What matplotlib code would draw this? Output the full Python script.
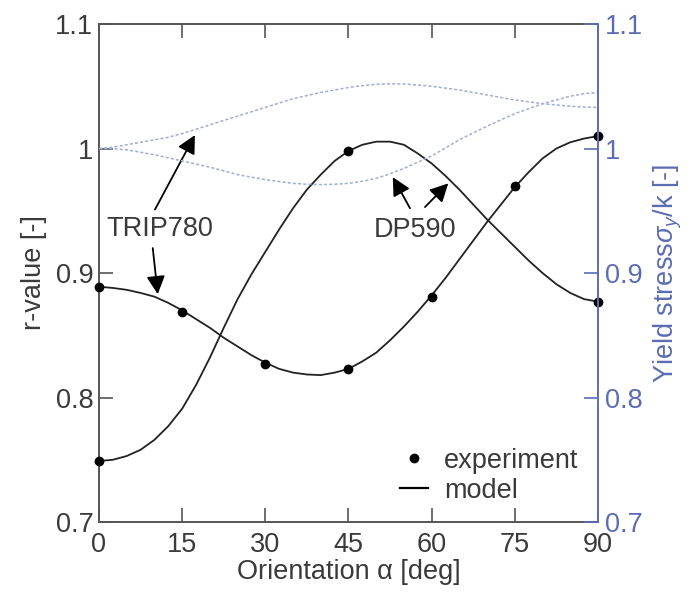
import matplotlib
matplotlib.use("Agg")
import matplotlib.pyplot as plt
from matplotlib.lines import Line2D

plt.rcParams['font.family'] = ['Liberation Sans', 'DejaVu Sans']
plt.rcParams['mathtext.fontset'] = 'custom'
plt.rcParams['mathtext.rm'] = 'Liberation Sans'
plt.rcParams['mathtext.it'] = 'Liberation Sans:italic'

# experiment (orientation in deg)
exp_angles_trip = [0, 15, 30, 45, 60, 75, 90]
exp_r_trip = [0.889, 0.869, 0.827, 0.823, 0.881, 0.970, 1.010]
exp_angles_dp = [0, 45, 90]
exp_r_dp = [0.749, 0.998, 0.877]

model_angles = [0, 2.5, 5, 7.5, 10, 12.5, 15, 17.5, 20, 22.5, 25, 27.5, 30, 32.5, 35, 37.5,
                40, 42.5, 45, 47.5, 50, 52.5, 55, 57.5, 60, 62.5, 65, 67.5, 70, 72.5, 75,
                77.5, 80, 82.5, 85, 87.5, 90]
model_r_trip = [0.889, 0.888, 0.8865, 0.884, 0.881, 0.876, 0.870, 0.863, 0.856, 0.848,
                0.841, 0.834, 0.828, 0.823, 0.820, 0.8185, 0.818, 0.820, 0.823, 0.829,
                0.836, 0.846, 0.857, 0.869, 0.882, 0.896, 0.911, 0.926, 0.941, 0.955,
                0.969, 0.981, 0.992, 1.000, 1.005, 1.008, 1.010]
model_r_dp = [0.749, 0.750, 0.753, 0.758, 0.766, 0.777, 0.791, 0.810, 0.832, 0.856,
              0.879, 0.899, 0.917, 0.935, 0.952, 0.967, 0.979, 0.990, 0.998, 1.003,
              1.0055, 1.0055, 1.003, 0.996, 0.988, 0.978, 0.967, 0.955, 0.943, 0.932,
              0.921, 0.910, 0.900, 0.891, 0.884, 0.879, 0.877]
model_sy_trip = [1.000, 1.001, 1.003, 1.005, 1.007, 1.009, 1.012, 1.0155, 1.019, 1.0225,
                 1.026, 1.0295, 1.033, 1.0365, 1.040, 1.0425, 1.045, 1.047, 1.049, 1.0505,
                 1.0515, 1.052, 1.0518, 1.051, 1.050, 1.0485, 1.047, 1.045, 1.043, 1.041,
                 1.039, 1.0375, 1.036, 1.035, 1.034, 1.0333, 1.033]
model_sy_dp = [1.000, 0.9998, 0.999, 0.997, 0.995, 0.9925, 0.990, 0.9875, 0.985, 0.982,
               0.979, 0.977, 0.975, 0.9735, 0.972, 0.9713, 0.971, 0.9713, 0.972, 0.9737,
               0.976, 0.9797, 0.984, 0.989, 0.994, 1.0005, 1.007, 1.0125, 1.018, 1.023,
               1.028, 1.032, 1.036, 1.039, 1.042, 1.044, 1.045]

x_ticks = [0, 15, 30, 45, 60, 75, 90]
y_ticks = [0.7, 0.8, 0.9, 1.0, 1.1]
y_tick_labels = ['0.7', '0.8', '0.9', '1', '1.1']

txt = '#3a3a3a'
blue = '#5b6cb4'
blue_light = '#a3abd8'
fs = 19.5

fig = plt.figure(figsize=(6.98, 5.97), dpi=100)
ax = fig.add_axes([0.1418, 0.1256, 0.7149, 0.8342])
ax2 = ax.twinx()

# yield stress curves (right axis)
ax2.plot(model_angles, model_sy_trip, color=blue_light, lw=1.1, ls=(0, (2, 1.4)))
ax2.plot(model_angles, model_sy_dp, color=blue_light, lw=1.1, ls=(0, (2, 1.4)))

# r-value curves
ax.plot(model_angles, model_r_trip, color='#222222', lw=1.3)
ax.plot(model_angles, model_r_dp, color='#222222', lw=1.3)
ax.plot(exp_angles_trip, exp_r_trip, 'o', color='black', ms=6, clip_on=False, zorder=5)
ax.plot(exp_angles_dp, exp_r_dp, 'o', color='black', ms=6, clip_on=False, zorder=5)

for a in (ax, ax2):
    a.set_xlim(0, 90)
    a.set_ylim(0.7, 1.1)
    a.set_yticks(y_ticks)
    a.set_yticklabels(y_tick_labels)
ax.set_xticks(x_ticks)

ax.tick_params(axis='both', direction='in', length=10, width=1.2, colors='#555555',
               labelcolor=txt, labelsize=fs, top=True)
ax.tick_params(axis='x', pad=7)
ax.tick_params(axis='y', pad=4)
ax2.tick_params(axis='y', direction='in', length=10, width=1.2, colors=blue,
                labelcolor=blue, labelsize=fs, pad=5)

for s in ['left', 'bottom', 'top']:
    ax.spines[s].set_color('#555555')
    ax.spines[s].set_linewidth(1.4)
    ax2.spines[s].set_visible(False)
ax.spines['right'].set_visible(False)
ax2.spines['right'].set_color(blue)
ax2.spines['right'].set_linewidth(1.4)

ax.set_xlabel('Orientation α [deg]', fontsize=fs, color=txt, labelpad=1)
ax.set_ylabel('r-value [-]', fontsize=fs, color=txt, labelpad=6)
ax2.set_ylabel(r'Yield stress$\sigma_{y}$/k [-]', fontsize=fs, color=blue, labelpad=6)

# annotations
arrow = dict(arrowstyle='-|>,head_length=0.55,head_width=0.28', color='black', lw=1.3,
             mutation_scale=20, shrinkA=0, shrinkB=0)
ax.text(10.9, 0.9355, 'TRIP780', fontsize=fs, color=txt, ha='center', va='center')
ax.annotate('', xy=(17.3, 1.0108), xytext=(10.1, 0.951), arrowprops=arrow)
ax.annotate('', xy=(10.6, 0.883), xytext=(9.7, 0.920), arrowprops=arrow)
ax.text(57.0, 0.9345, 'DP590', fontsize=fs, color=txt, ha='center', va='center')
ax.annotate('', xy=(53.0, 0.977), xytext=(56.1, 0.952), arrowprops=arrow)
ax.annotate('', xy=(63.0, 0.972), xytext=(58.8, 0.953), arrowprops=arrow)

handles = [Line2D([], [], marker='o', ls='none', color='black', ms=6),
           Line2D([], [], color='black', lw=1.6)]
ax.legend(handles, ['experiment', 'model'], loc='lower right', bbox_to_anchor=(0.982, 0.015),
          borderaxespad=0, frameon=False, fontsize=fs, handlelength=1.0,
          handletextpad=0.6, labelspacing=0.15, labelcolor=txt)

fig.savefig('out.png', dpi=100)
